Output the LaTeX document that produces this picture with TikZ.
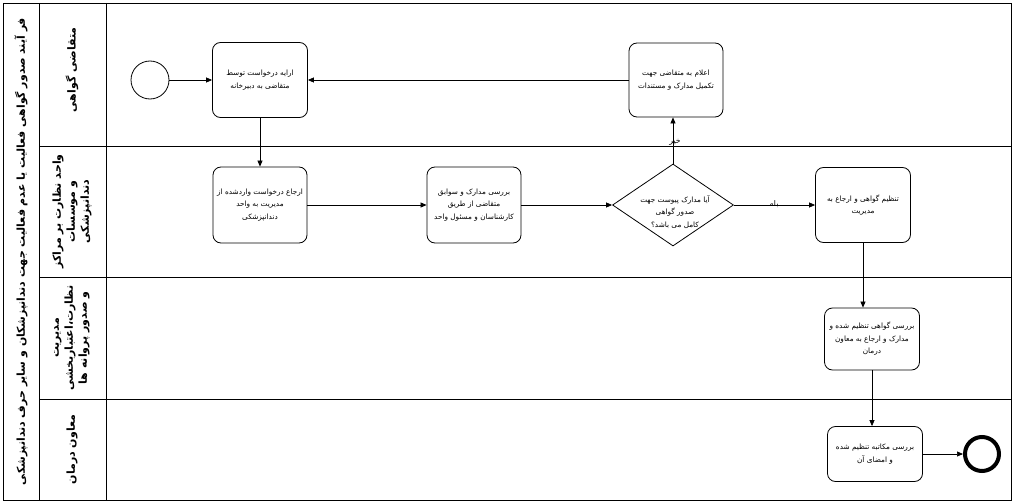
\documentclass[tikz,border=0pt]{standalone}
\usepackage{fontspec}
\newfontfamily\arabicfont[Script=Arabic]{DejaVu Sans}
\TeXXeTstate=1
\usetikzlibrary{shapes.geometric,arrows.meta}
\newcommand{\fa}[1]{\beginR #1\endR}
\begin{document}
\begin{tikzpicture}[x=1pt,y=-1pt,
  frame/.style={draw=black,line width=0.8pt},
  task/.style={draw=black,rounded corners=8pt,line width=0.8pt,align=center,inner sep=1pt,
    font=\arabicfont\fontsize{7.3}{12.5}\selectfont},
  gate/.style={draw=black,shape=diamond,line width=0.8pt,inner sep=0pt},
  txt/.style={align=center,inner sep=0pt,font=\arabicfont\fontsize{7.3}{12.5}\selectfont},
  flowlbl/.style={inner sep=0pt,font=\arabicfont\fontsize{7.8}{10}\selectfont},
  lanelbl/.style={align=center,rotate=90,inner sep=0pt,font=\arabicfont\bfseries\fontsize{11}{14}\selectfont},
  arr/.style={draw=black,line width=0.7pt,-{Triangle[length=6pt,width=5pt]}}]
\useasboundingbox (0,0) rectangle (1013,503);
% frame and lanes
\draw[frame] (3,3) rectangle (1011,500);
\draw[frame] (39,3) -- (39,500);
\draw[frame] (106,3) -- (106,500);
\draw[frame] (39,146) -- (1011,146);
\draw[frame] (39,277) -- (1011,277);
\draw[frame] (39,399) -- (1011,399);
% title and lane labels
\node[lanelbl,font=\arabicfont\bfseries\fontsize{10.9}{14}\selectfont] (title) at (21,251.5)
  {\fa{فر آیند صدور گواهی فعالیت یا عدم فعالیت جهت دندانپزشکان و سایر حرف دندانپزشکی}};
\node[lanelbl] (lane1) at (72,70) {\fa{متقاضی گواهی}};
\node[lanelbl] (lane2) at (72,211.5) {\fa{واحد نظارت بر مراکز}\\\fa{و موسسات}\\\fa{دندانپزشکی}};
\node[lanelbl] (lane3) at (72,338) {\fa{مدیریت}\\\fa{نظارت،اعتباربخشی}\\\fa{و صدور پروانه ها}};
\node[lanelbl] (lane4) at (72,449.5) {\fa{معاون درمان}};
% events
\node[draw=black,circle,line width=0.8pt,minimum size=38pt,inner sep=0pt] (start) at (150,80) {};
\node[draw=black,circle,line width=4pt,minimum size=34pt,inner sep=0pt] (end) at (982,454) {};
% tasks
\node[task,minimum width=95pt,minimum height=75pt] (t1) at (260,80)
  {\fa{ارایه درخواست توسط}\\\fa{متقاضی به دبیرخانه}};
\node[task,minimum width=94pt,minimum height=74pt] (t2) at (676,80)
  {\fa{اعلام به متقاضی جهت}\\\fa{تکمیل مدارک و مستندات}};
\node[task,minimum width=94pt,minimum height=76pt] (t3) at (260,205)
  {\fa{ارجاع درخواست واردشده از}\\\fa{مدیریت به واحد}\\\fa{دندانپزشکی}};
\node[task,minimum width=94pt,minimum height=76pt] (t4) at (474,205)
  {\fa{بررسی مدارک و سوابق}\\\fa{متقاضی از طریق}\\\fa{کارشناسان و مسئول واحد}};
\node[gate,minimum width=121pt,minimum height=82pt] (gw) at (673,205) {};
\node[txt] (gwtext) at (675,212)
  {\fa{آیا مدارک پیوست جهت}\\\fa{صدور گواهی}\\\fa{کامل می باشد؟}};
\node[task,minimum width=95pt,minimum height=75pt] (t5) at (863,205)
  {\fa{تنظیم گواهی و ارجاع به}\\\fa{مدیریت}};
\node[task,minimum width=95pt,minimum height=62pt] (t6) at (872,339)
  {\fa{بررسی گواهی تنظیم شده و}\\\fa{مدارک و ارجاع به معاون}\\\fa{درمان}};
\node[task,minimum width=95pt,minimum height=55pt] (t7) at (875,454)
  {\fa{بررسی مکاتبه تنظیم شده}\\\fa{و امضای آن}};
% flows
\draw[arr] (start) -- (t1);
\draw[arr] (t2.west) -- (t1.east);
\draw[arr] (t1.south) -- (t3.north);
\draw[arr] (t3.east) -- (t4.west);
\draw[arr] (t4.east) -- (gw.west);
\draw[arr] (gw.north) -- (gw.north |- t2.south);
\draw[arr] (gw.east) -- (t5.west);
\draw[arr] (t5.south) -- (t5.south |- t6.north);
\draw[arr] (t6.south) -- (t6.south |- t7.north);
\draw[arr] (t7.east) -- (end.west);
\node[flowlbl] (no) at (675,142) {\fa{خیر}};
\node[flowlbl] (yes) at (774,204) {\fa{بله}};
\end{tikzpicture}
\end{document}
